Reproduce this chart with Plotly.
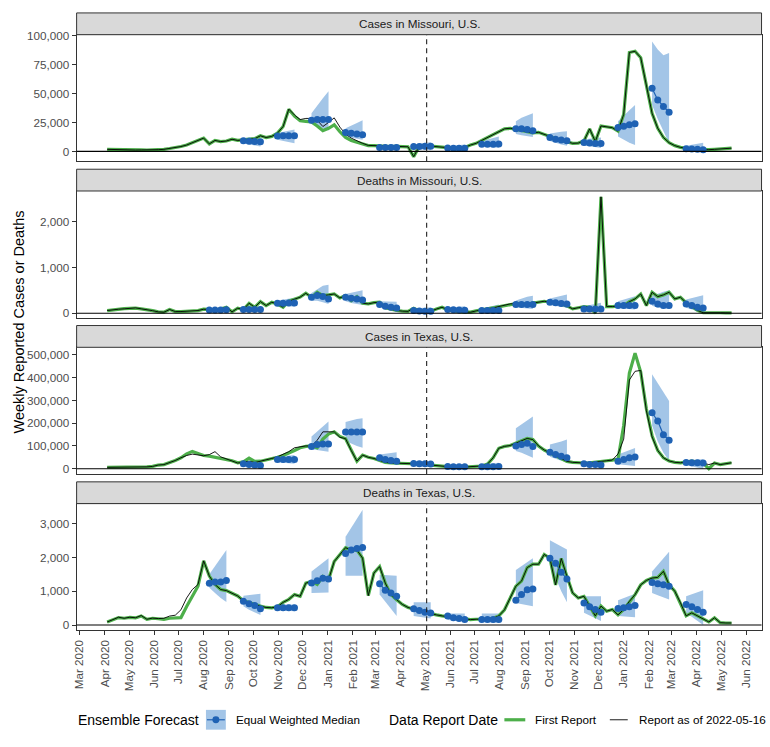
import pandas as pd
import plotly.graph_objects as go

# ---------------- data ----------------
week_start = "2020-04-04"
n_weeks = 111
forecast_dates_deaths = ['2020-08-08', '2020-09-19', '2020-10-31', '2020-12-12', '2021-01-23',
                         '2021-03-06', '2021-04-17', '2021-05-29', '2021-07-10', '2021-08-21',
                         '2021-10-02', '2021-11-13', '2021-12-25', '2022-02-05', '2022-03-19']
forecast_dates_cases = forecast_dates_deaths[1:]
month_ticks = pd.date_range("2020-03-01", "2022-06-01", freq="MS")
month_labels = [d.strftime("%b %Y") for d in month_ticks]
reference_date = "2021-05-03"

# Missouri cases (thousands)
mo_cases_latest = [1.8, 1.6, 1.5, 1.4, 1.3, 1.2, 1.3, 1.2, 1.2, 1.5, 1.8, 2.5, 3.2, 4.2, 5.5, 7.5, 9.5, 11.5, 6.5, 9.5,
                   8.5, 9, 10.5, 9.5, 10, 10.5, 11, 13.5, 12, 13, 15.8, 21.5, 36.5, 31.5, 27.5, 28.5, 28.5, 27, 21.5, 25,
                   29, 21, 15, 11.5, 9, 7, 5.2, 5, 4.5, 4.3, 4.2, 4.3, 4.3, 4, -4.5, 4.5, 5, 4.5, 3.8, 3.2,
                   3, 2.8, 3, 3.5, 5.5, 7, 9.5, 12, 15, 17.5, 19.5, 20, 19, 18, 17, 16, 16.5, 15, 13, 11,
                   9.5, 8, 7, 7.2, 9, 19.5, 8.5, 22, 21, 20.5, 17.5, 32, 85.5, 86.5, 81, 57, 33, 20, 12, 7.5,
                   5, 3.5, 2.5, 2, 1.8, 1.5, 1.5, 1.8, 2, 2.2, 2.8]
mo_cases_first = [1.8, 1.6, 1.5, 1.4, 1.3, 1.2, 1.3, 1.2, 1.2, 1.5, 1.8, 2.5, 3.2, 4.2, 5.5, 7.5, 9.5, 11.5, 6.5, 9.5,
                  8.5, 9, 10.5, 9.5, 10, 10.5, 11, 13.5, 12, 13, 15.8, 21.5, 36.5, 30.5, 26.5, 26, 25.5, 22, 18, 20,
                  23, 17, 12, 9.5, 8, 6, 5, 5, 4.5, 4.3, 4.2, 4.3, 4.3, 4, -4.5, 4.5, 5, 4.5, 3.8, 3.2,
                  3, 2.8, 3, 3.5, 5.5, 7, 9.5, 12, 15, 17.5, 19.5, 20, 19, 18, 17, 16, 16.5, 15, 13, 11,
                  9.5, 8, 7, 7.2, 9, 19.5, 8.5, 22, 21, 20.5, 17.5, 32, 85.5, 86.5, 81, 57, 33, 20, 12, 7.5,
                  5, 3.5, 2.5, 2, 1.8, 1.5, 1.5, 1.8, 2, 2.2, 2.8]
mo_cases_med = [[9.2, 8.8, 8.6, 8.3], [13.3, 13.5, 13.5, 13.6], [27.0, 27.5, 27.5, 27.5], [16.4, 15.8, 15.0, 14.4],
                [3.4, 3.4, 3.3, 3.3], [4.3, 4.3, 4.4, 4.4], [2.9, 2.8, 2.8, 2.8], [6.3, 6.3, 6.3, 6.4],
                [19.5, 19.5, 19.0, 17.8], [12.0, 10.6, 9.8, 9.2], [7.8, 7.2, 6.9, 6.9], [20.7, 21.8, 23.0, 23.9],
                [54.6, 44.5, 38.8, 33.9], [2.3, 2.0, 1.8, 1.5]]
mo_cases_lo = [[7, 6, 5, 4.3], [10, 9, 8, 7], [24, 22, 20, 18], [13, 12, 11, 10], [2, 1.5, 1, 0.5],
               [2.5, 2, 1.5, 1], [1.5, 1, 0.5, 0], [4.5, 4, 3.5, 3], [15, 14, 13, 12.5], [9, 7.5, 6, 5],
               [5, 4.5, 4, 3], [13, 10, 7.5, 5.5], [40, 28, 17, 7], [0.8, 0.5, 0.2, 0]]
mo_cases_hi = [[11.5, 12, 12.5, 13], [16, 17, 18, 19], [33, 40, 46, 52], [20, 22, 24.5, 27], [5, 5.5, 6, 6.5],
               [6, 7, 7.5, 8], [4.5, 5, 5.5, 6], [9, 10.5, 12, 13], [26, 29, 31, 33], [15.5, 16.5, 17, 17.5],
               [10.5, 11, 11.5, 12], [26, 31, 35.5, 40], [95, 88, 83, 85], [5, 6, 7, 7.5]]

# Missouri deaths
mo_deaths_latest = [58, 80, 87, 95, 100, 116, 95, 80, 55, 29, 22, 80, 36, 36, 40, 48, 58, 87, 80, 75,
                    90, 130, 29, 109, 80, 217, 130, 254, 167, 239, 200, 130, 261, 312, 350, 435, 348, 457, 384, 400,
                    420, 333, 384, 275, 362, 217, 203, 230, 240, 116, 80, 58, 45, 40, 109, 43, 45, 43, 90, 130,
                    72, 50, 35, 25, 22, 50, 80, 95, 116, 140, 167, 203, 210, 215, 200, 220, 240, 261, 240, 218,
                    200, 160, 94, 120, 145, 130, 0, 2543, 145, 145, 150, 167, 250, 312, 420, 167, 457, 362, 400, 457,
                    312, 348, 230, 150, 60, 10, 15, 12, 10, 8, 5]
mo_deaths_first = [58, 75, 90, 100, 105, 110, 95, 80, 55, 29, 22, 80, 36, 36, 40, 48, 58, 87, 80, 75,
                   90, 130, 29, 109, 80, 217, 130, 254, 167, 239, 200, 130, 261, 312, 350, 435, 348, 457, 384, 400,
                   420, 333, 384, 275, 362, 217, 203, 230, 240, 116, 80, 58, 45, 40, 109, 43, 45, 43, 90, 130,
                   72, 50, 35, 25, 22, 50, 80, 95, 116, 140, 167, 203, 210, 215, 200, 220, 240, 261, 240, 218,
                   200, 160, 94, 120, 145, 130, 0, 2543, 145, 145, 150, 167, 250, 312, 420, 167, 457, 362, 400, 457,
                   312, 348, 230, 150, 60, 10, 15, 12, 10, 8, 5]
mo_deaths_med = [[70, 70, 72, 75], [80, 80, 80, 80], [217, 217, 225, 225], [348, 384, 362, 312],
                 [348, 326, 312, 290], [188, 152, 130, 116], [58, 50, 45, 40], [80, 75, 70, 65],
                 [58, 58, 58, 60], [188, 188, 188, 188], [240, 230, 210, 200], [94, 94, 94, 94],
                 [167, 167, 167, 167], [261, 203, 167, 167], [203, 167, 130, 116]]
mo_deaths_lo = [[40, 35, 30, 25], [50, 45, 40, 35], [170, 160, 150, 140], [270, 270, 240, 200],
                [260, 220, 200, 180], [140, 100, 60, 30], [20, 10, 5, 0], [40, 30, 20, 10],
                [20, 15, 10, 5], [130, 110, 100, 90], [180, 160, 140, 120], [50, 40, 30, 20],
                [110, 100, 90, 80], [160, 120, 100, 90], [120, 80, 40, 10]]
mo_deaths_hi = [[100, 110, 120, 130], [120, 130, 140, 150], [280, 300, 320, 340], [440, 520, 600, 620],
                [420, 450, 480, 500], [260, 260, 260, 250], [100, 110, 120, 130], [120, 130, 140, 150],
                [100, 130, 160, 190], [280, 320, 360, 380], [320, 350, 380, 410], [150, 180, 200, 230],
                [260, 300, 340, 370], [380, 430, 470, 500], [300, 330, 360, 390]]

# Texas cases (thousands)
tx_cases_latest = [6, 6, 7, 7, 7, 7, 8, 8, 10, 16, 18, 26, 36, 48, 58, 64, 60, 57, 62, 75,
                   52, 43, 35, 25, 28, 33, 27, 32, 38, 45, 52, 62, 75, 92, 97, 100, 100, 125, 162, 162,
                   162, 138, 132, 80, 33, 60, 50, 45, 35, 28, 25, 24, 22, 22, 21, 22, 20, 16, 13, 10,
                   8, 7, 6, 7, 8, 9, 12, 20, 48, 90, 98, 102, 112, 122, 133, 128, 100, 82, 70, 55,
                   45, 32, 28, 26, 25, 26, 30, 33, 35, 38, 65, 130, 390, 428, 432, 255, 140, 80, 48, 34,
                   28, 26, 30, 33, 28, 25, 18, 25, 18, 22, 26]
tx_cases_first = [6, 6, 7, 7, 7, 7, 8, 8, 10, 16, 18, 26, 36, 48, 65, 76, 66, 58, 55, 50,
                  46, 42, 35, 26, 30, 46, 32, 33, 38, 45, 50, 58, 68, 80, 92, 98, 100, 92, 130, 152,
                  162, 142, 132, 80, 33, 60, 50, 45, 35, 28, 25, 24, 22, 22, 21, 22, 20, 16, 13, 10,
                  8, 7, 6, 7, 8, 9, 12, 20, 48, 90, 98, 102, 112, 122, 133, 128, 100, 82, 70, 55,
                  45, 32, 28, 26, 25, 26, 30, 33, 35, 38, 42, 190, 420, 508, 425, 262, 145, 80, 48, 34,
                  28, 26, 30, 33, 28, 25, 0, 25, 18, 22, 26]
tx_cases_med = [[22, 19, 16, 14], [40, 40, 40, 40], [98, 106, 109, 109], [161, 161, 161, 161],
                [48, 41, 36, 33], [23, 22, 22, 21], [10, 9, 9, 9], [9, 9, 9, 10],
                [100, 106, 112, 98], [72, 62, 55, 48], [22, 19, 19, 16], [33, 41, 48, 51],
                [246, 210, 149, 125], [27, 26, 26, 25]]
tx_cases_lo = [[12, 8, 5, 3], [28, 26, 24, 22], [85, 82, 78, 75], [122, 110, 100, 92], [30, 26, 22, 18],
               [12, 10, 8, 7], [5, 3, 2, 1], [5, 3, 2, 0], [78, 70, 60, 48], [52, 42, 35, 28],
               [12, 9, 7, 5], [20, 18, 15, 12], [190, 120, 70, 35], [15, 10, 5, 0]]
tx_cases_hi = [[30, 32, 34, 36], [52, 55, 58, 60], [142, 165, 185, 207], [205, 212, 218, 222], [62, 66, 70, 72],
               [34, 33, 32, 30], [16, 18, 20, 22], [20, 22, 24, 26], [178, 195, 212, 229], [106, 112, 120, 128],
               [32, 32, 34, 36], [62, 72, 82, 91], [415, 375, 335, 298], [38, 40, 42, 42]]

# Texas deaths
tx_deaths_latest = [88, 170, 230, 200, 230, 215, 280, 170, 205, 190, 200, 265, 290, 450, 800, 1050, 1200, 1900, 1450, 1200,
                    1050, 1020, 950, 860, 720, 660, 600, 560, 520, 510, 540, 670, 760, 900, 850, 1240, 1290, 1240, 1440, 1340,
                    1880, 2070, 2290, 2220, 2220, 1980, 870, 1540, 1730, 1240, 900, 750, 610, 520, 460, 420, 380, 330, 300, 270,
                    250, 220, 200, 170, 160, 170, 165, 175, 200, 270, 450, 800, 1150, 1300, 1700, 1800, 1800, 2090, 1980, 1190,
                    1970, 1440, 950, 800, 850, 560, 270, 560, 410, 460, 300, 460, 700, 900, 1190, 1320, 1390, 1410, 1590, 1190,
                    1000, 660, 270, 360, 270, 200, 90, 215, 70, 60, 60]
tx_deaths_first = [88, 160, 220, 200, 225, 210, 270, 170, 200, 185, 170, 200, 200, 220, 550, 850, 1150, 1900, 1450, 1200,
                   1050, 1020, 950, 860, 720, 660, 600, 560, 520, 510, 540, 670, 760, 900, 850, 1240, 1290, 1200, 1440, 1340,
                   1880, 2070, 2290, 2220, 2220, 1980, 870, 1540, 1730, 1240, 900, 750, 610, 520, 460, 420, 380, 330, 300, 270,
                   250, 220, 200, 170, 160, 170, 165, 175, 200, 270, 450, 800, 1150, 1300, 1700, 1800, 1800, 2090, 1980, 1190,
                   1970, 1440, 950, 800, 850, 560, 270, 560, 410, 460, 300, 460, 700, 900, 1190, 1320, 1390, 1410, 1590, 1190,
                   1000, 660, 270, 360, 270, 200, 90, 215, 70, 60, 60]
tx_deaths_med = [[1240, 1270, 1270, 1320], [704, 626, 577, 479], [508, 508, 508, 508], [1241, 1310, 1388, 1359],
                 [2121, 2219, 2268, 2297], [1222, 1026, 948, 850], [479, 430, 381, 352], [264, 215, 196, 166],
                 [166, 166, 166, 166], [733, 900, 1046, 1066], [1975, 1828, 1564, 1359], [655, 538, 459, 381],
                 [489, 508, 538, 577], [1261, 1222, 1193, 1144], [606, 538, 459, 381]]
tx_deaths_lo = [[1100, 950, 800, 680], [557, 450, 370, 293], [440, 430, 420, 410], [948, 940, 950, 960],
                [1456, 1456, 1456, 1456], [900, 700, 480, 264], [264, 250, 220, 190], [147, 130, 120, 110],
                [88, 80, 75, 70], [655, 620, 590, 557], [1730, 1400, 1000, 674], [362, 280, 200, 117],
                [264, 250, 240, 230], [948, 880, 810, 753], [362, 240, 120, 0]]
tx_deaths_hi = [[1500, 1750, 2000, 2220], [870, 890, 910, 929], [606, 610, 606, 606], [1584, 1720, 1850, 1975],
                [2610, 2880, 3150, 3411], [1486, 1480, 1470, 1460], [674, 674, 674, 674], [342, 342, 342, 342],
                [342, 342, 342, 342], [1632, 1750, 1860, 1975], [2512, 2420, 2330, 2238], [850, 850, 850, 850],
                [733, 800, 870, 929], [1584, 1780, 1980, 2170], [850, 910, 970, 1026]]

panel_titles = ["Cases in Missouri, U.S.", "Deaths in Missouri, U.S.", "Cases in Texas, U.S.", "Deaths in Texas, U.S."]

# ---------------- styling / layout ----------------
W, H = 770, 747
FONT = "Liberation Sans, Arial, Helvetica, sans-serif"
GREEN = "#4daf4a"
BLUE = "#1f62b4"
BAND = "#a3c5e7"
FRAME = "#333333"
TICKC = "#4d4d4d"

XL, XR = 73, 761.5
panel_px = [(29, 157), (187, 315), (345, 473), (503, 631)]
strip_px = [(7, 29), (165, 187), (323, 345), (481, 503)]
y_ranges = [[-8550, 100850], [-97, 2670], [-23000, 533500], [-155, 3595]]
y_dticks = [25000, 1000, 100000, 1000]

def fx(px):
    return px / W

def fy(px):
    return 1 - px / H

weeks = pd.date_range(week_start, periods=n_weeks, freq="7D")

panels = [
    (mo_cases_first, mo_cases_latest, forecast_dates_cases, mo_cases_med, mo_cases_lo, mo_cases_hi, 1000),
    (mo_deaths_first, mo_deaths_latest, forecast_dates_deaths, mo_deaths_med, mo_deaths_lo, mo_deaths_hi, 1),
    (tx_cases_first, tx_cases_latest, forecast_dates_cases, tx_cases_med, tx_cases_lo, tx_cases_hi, 1000),
    (tx_deaths_first, tx_deaths_latest, forecast_dates_deaths, tx_deaths_med, tx_deaths_lo, tx_deaths_hi, 1),
]

fig = go.Figure()
shapes = []
annotations = []
layout = {}

for p, (first, latest, fdates, med, lo, hi, k) in enumerate(panels):
    xa = "x" if p == 0 else f"x{p+1}"
    ya = "y" if p == 0 else f"y{p+1}"
    common = dict(xaxis=xa, yaxis=ya, showlegend=False, hoverinfo="skip")
    # ribbons
    for g, start in enumerate(fdates):
        d = list(pd.date_range(start, periods=4, freq="7D"))
        fig.add_trace(go.Scatter(x=d + d[::-1],
                                 y=[v * k for v in hi[g]] + [v * k for v in lo[g][::-1]],
                                 fill="toself", fillcolor=BAND, mode="lines",
                                 line=dict(width=0, color=BAND), **common))
    # observed data
    fig.add_trace(go.Scatter(x=weeks, y=[v * k for v in first], mode="lines",
                             line=dict(color=GREEN, width=3.2), **common))
    fig.add_trace(go.Scatter(x=weeks, y=[v * k for v in latest], mode="lines",
                             line=dict(color="black", width=0.9), **common))
    # forecast medians
    for g, start in enumerate(fdates):
        d = list(pd.date_range(start, periods=4, freq="7D"))
        fig.add_trace(go.Scatter(x=d, y=[v * k for v in med[g]], mode="lines+markers",
                                 line=dict(color=BLUE, width=1.2),
                                 marker=dict(color=BLUE, size=7), **common))

    top, bot = panel_px[p]
    xkey = "xaxis" if p == 0 else f"xaxis{p+1}"
    ykey = "yaxis" if p == 0 else f"yaxis{p+1}"
    last = p == 3
    layout[xkey] = dict(
        domain=[fx(XL), fx(XR)], anchor=ya, type="date",
        range=["2020-02-26 08:00", "2022-06-20"],
        showline=True, mirror=True, linecolor=FRAME, linewidth=1,
        showgrid=False, zeroline=False,
        tickvals=list(month_ticks), ticktext=month_labels,
        ticks="outside" if last else "", ticklen=4, tickwidth=1, tickcolor=FRAME,
        showticklabels=last, tickangle=-90,
        tickfont=dict(family=FONT, size=11.7, color=TICKC),
    )
    if p > 0:
        layout[xkey]["matches"] = "x"
    layout[ykey] = dict(
        domain=[fy(bot), fy(top)], anchor=xa, range=y_ranges[p],
        showline=True, mirror=True, linecolor=FRAME, linewidth=1,
        showgrid=False, zeroline=False, tick0=0, dtick=y_dticks[p], tickformat=",d",
        ticks="outside", ticklen=4, tickwidth=1, tickcolor=FRAME,
        tickfont=dict(family=FONT, size=11.7, color=TICKC),
    )
    # zero line and reference date line
    shapes.append(dict(type="line", xref=f"{xa} domain", x0=0, x1=1, yref=ya, y0=0, y1=0,
                       line=dict(color="black", width=1.1), layer="above"))
    shapes.append(dict(type="line", xref=xa, x0=reference_date, x1=reference_date,
                       yref=f"{ya} domain", y0=0, y1=1,
                       line=dict(color="#222222", width=1.1, dash="5px,4px"), layer="above"))
    # strip
    s0, s1 = strip_px[p]
    shapes.append(dict(type="rect", xref="paper", yref="paper", x0=fx(XL), x1=fx(XR), y0=fy(s1), y1=fy(s0),
                       fillcolor="#d9d9d9", line=dict(color=FRAME, width=1), layer="above"))
    annotations.append(dict(text=panel_titles[p], xref="paper", yref="paper",
                            x=fx((XL + XR) / 2), y=fy((s0 + s1) / 2), showarrow=False,
                            xanchor="center", yanchor="middle",
                            font=dict(family=FONT, size=11.7, color="#1a1a1a")))

# y axis title
annotations.append(dict(text="Weekly Reported Cases or Deaths", xref="paper", yref="paper",
                        x=fx(15), y=fy(319), textangle=-90, showarrow=False,
                        xanchor="center", yanchor="middle",
                        font=dict(family=FONT, size=14.5, color="black")))

# ---------------- legend (drawn manually) ----------------
LY = 721.5
def ltext(text, x, size):
    annotations.append(dict(text=text, xref="paper", yref="paper", x=fx(x), y=fy(LY),
                            showarrow=False, xanchor="left", yanchor="middle",
                            font=dict(family=FONT, size=size, color="black")))

ltext("Ensemble Forecast", 72, 14)
shapes.append(dict(type="rect", xref="paper", yref="paper", x0=fx(203), x1=fx(223), y0=fy(LY + 10), y1=fy(LY - 10),
                   fillcolor=BAND, line=dict(width=0)))
shapes.append(dict(type="line", xref="paper", yref="paper", x0=fx(204), x1=fx(222), y0=fy(LY), y1=fy(LY),
                   line=dict(color=BLUE, width=1.2)))
shapes.append(dict(type="circle", xref="paper", yref="paper", x0=fx(209.5), x1=fx(216.5),
                   y0=fy(LY + 3.5), y1=fy(LY - 3.5), fillcolor=BLUE, line=dict(width=0)))
ltext("Equal Weighted Median", 231, 11.7)

ltext("Data Report Date", 385, 14)
shapes.append(dict(type="line", xref="paper", yref="paper", x0=fx(503), x1=fx(524), y0=fy(LY), y1=fy(LY),
                   line=dict(color=GREEN, width=3.2)))
ltext("First Report", 532, 11.7)
shapes.append(dict(type="line", xref="paper", yref="paper", x0=fx(609), x1=fx(627), y0=fy(LY), y1=fy(LY),
                   line=dict(color="black", width=0.9)))
ltext("Report as of 2022-05-16", 636, 11.7)

fig.update_layout(
    width=W, height=H, margin=dict(l=0, r=0, t=0, b=0),
    paper_bgcolor="white", plot_bgcolor="white",
    font=dict(family=FONT, color="black"),
    showlegend=False, shapes=shapes, annotations=annotations,
    **layout,
)

fig.write_html("out.html")
